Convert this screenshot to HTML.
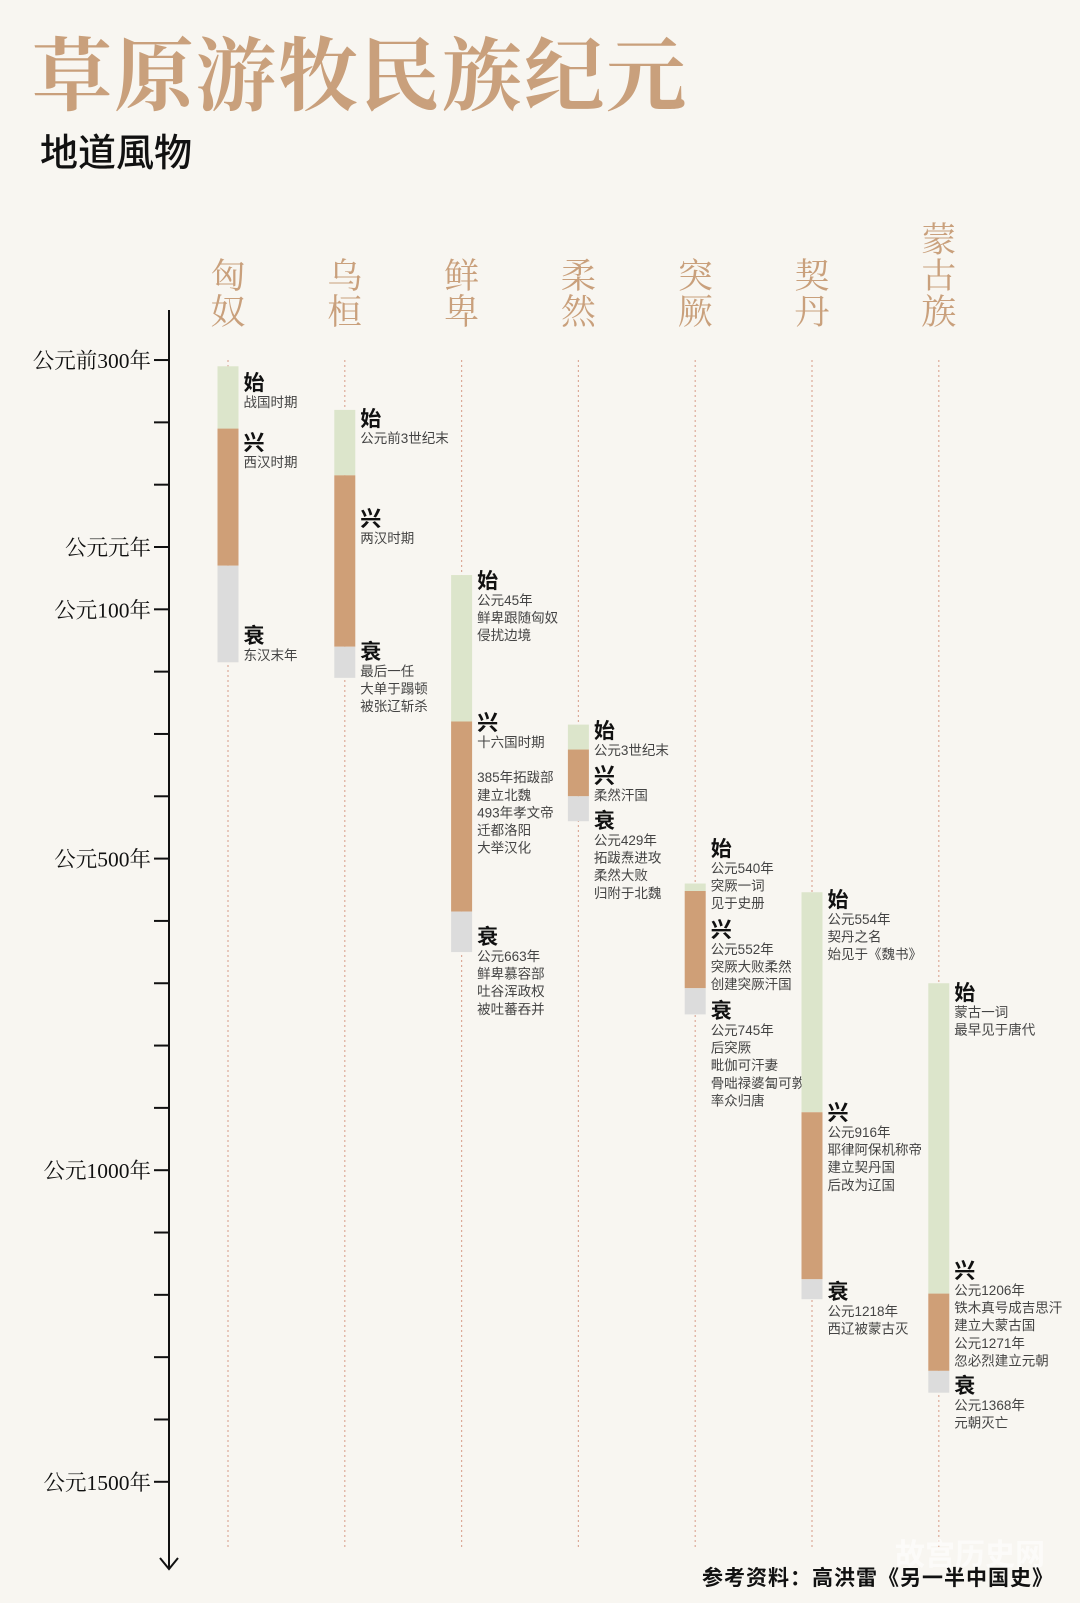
<!DOCTYPE html>
<html><head><meta charset="utf-8">
<style>
html,body{margin:0;padding:0;background:#f8f6f1;}
svg{display:block;}
</style></head>
<body>
<svg id="chart" width="1080" height="1603" viewBox="0 0 1080 1603" xmlns="http://www.w3.org/2000/svg">
<rect x="0" y="0" width="1080" height="1603" fill="#f8f6f1"/>
<text x="32" y="104" font-family="'Liberation Serif','Noto Serif CJK SC',serif" font-weight="bold" font-size="80" fill="#c9a07c" letter-spacing="2">草原游牧民族纪元</text>
<text x="40" y="166" font-family="'Liberation Sans','Noto Sans CJK SC',sans-serif" font-weight="500" font-size="38" fill="#111">地道風物</text>
<g id="axis"></g>
<g id="cols"></g>
<text x="895" y="1565" font-family="'Liberation Sans','Noto Sans CJK SC',sans-serif" font-size="30" font-weight="bold" fill="#ffffff" opacity="0.6">故宫历史网</text>
<text x="702" y="1585" font-family="'Liberation Sans','Noto Sans CJK SC',sans-serif" font-weight="bold" font-size="21" fill="#111" letter-spacing="1">参考资料：高洪雷《另一半中国史》</text>
</svg>
<script>
// ---- data ----
const tribes = ["匈奴","乌桓","鲜卑","柔然","突厥","契丹","蒙古族"];
const startYears   = [-290, -220,  45, 285, 540,  554,  700];
const riseYears    = [-190, -115, 280, 325, 552,  907, 1198];
const declineYears = [  30,  160, 585, 400, 708, 1175, 1322];
const endYears     = [ 185,  210, 650, 440, 750, 1207, 1357];
const tickYears = [-300,-200,-100,0,100,200,300,400,500,600,700,800,900,1000,1100,1200,1300,1400,1500];
const tickLabelYears = [-300,0,100,500,1000,1500];
const tickLabels = ["公元前300年","公元元年","公元100年","公元500年","公元1000年","公元1500年"];
const startNotes = [["战国时期"],["公元前3世纪末"],["公元45年","鲜卑跟随匈奴","侵扰边境"],["公元3世纪末"],["公元540年","突厥一词","见于史册"],["公元554年","契丹之名","始见于《魏书》"],["蒙古一词","最早见于唐代"]];
const riseNotes = [["西汉时期"],["两汉时期"],["十六国时期","","385年拓跋部","建立北魏","493年孝文帝","迁都洛阳","大举汉化"],["柔然汗国"],["公元552年","突厥大败柔然","创建突厥汗国"],["公元916年","耶律阿保机称帝","建立契丹国","后改为辽国"],["公元1206年","铁木真号成吉思汗","建立大蒙古国","公元1271年","忽必烈建立元朝"]];
const declineNotes = [["东汉末年"],["最后一任","大单于蹋顿","被张辽斩杀"],["公元663年","鲜卑慕容部","吐谷浑政权","被吐蕃吞并"],["公元429年","拓跋焘进攻","柔然大败","归附于北魏"],["公元745年","后突厥","毗伽可汗妻","骨咄禄婆匐可敦","率众归唐"],["公元1218年","西辽被蒙古灭"],["公元1368年","元朝灭亡"]];

// ---- layout ----
const NS="http://www.w3.org/2000/svg";
const y0=547, pxPerYear=0.6232;
function yScale(yr){return y0+yr*pxPerYear;}
const colX0=228, colStep=116.8;
function xScale(i){return colX0+i*colStep+(i===tribes.length-1?10:0);}
const barW=21, axisX=169;
const labelLayout={
  s:[382,418,580,730,848,899,992],
  r:[442,518,722,775,929,1112,1270],
  d:[635,651,936,820,1010,1291,1385]
};
function mk(tag,attrs,parent){const e=document.createElementNS(NS,tag);for(const k in attrs)e.setAttribute(k,attrs[k]);parent.appendChild(e);return e;}
const axisG=document.getElementById('axis');
const colsG=document.getElementById('cols');

let l=mk('line',{x1:axisX,y1:310,x2:axisX,y2:1568,stroke:'#111','stroke-width':2},axisG);


let ar=mk('path',{d:`M${axisX-9} 1558 L${axisX} 1569 L${axisX+9} 1558`,fill:'none',stroke:'#111','stroke-width':2},axisG);


tickYears.forEach(t=>{
  const e=mk('line',{x1:axisX-15,y1:yScale(t),x2:axisX,y2:yScale(t),stroke:'#111','stroke-width':2},axisG);
  
  
});
tickLabelYears.forEach((t,i)=>{
  const e=mk('text',{x:axisX-18,y:yScale(t)+8,'text-anchor':'end','font-family':"'Liberation Serif','Noto Serif CJK SC',serif",'font-size':21.5,fill:'#111'},axisG);
  e.textContent=tickLabels[i];
  
  
});

const sans="'Liberation Sans','Noto Sans CJK SC',sans-serif";
function addNote(g,x,cy,head,lines){
  const h=mk('text',{x:x,y:cy+8,'font-family':sans,'font-weight':'bold','font-size':21,fill:'#111'},g);
  h.textContent=head;
  
  
  lines.forEach((s,k)=>{
    if(!s)return;
    const t=mk('text',{x:x,y:cy+25+k*17.6,'font-family':sans,'font-size':13.5,fill:'#444'},g);
    t.textContent=s;
    
    
  });
}

tribes.forEach((name,i)=>{
  const cx=xScale(i);
  const g=mk('g',{},colsG);
  
  
  const dl=mk('line',{x1:cx,y1:360,x2:cx,y2:1548,stroke:'#dcaa98','stroke-width':1.2,'stroke-dasharray':'2 3'},g);
  
  
  const chars=[...name];
  const lastCy=312;
  chars.forEach((c,k)=>{
    const t=mk('text',{x:cx,y:lastCy-(chars.length-1-k)*36+12,'text-anchor':'middle','font-family':"'Liberation Serif','Noto Serif CJK SC',serif",'font-size':35,fill:'#c9a07c'},g);
    t.textContent=c;
    
    
  });
  const segs=[[startYears[i],riseYears[i],'#dce5cb','stage-origin'],[riseYears[i],declineYears[i],'#cf9f77','stage-rise'],[declineYears[i],endYears[i],'#dcdcdc','stage-decline']];
  segs.forEach(s=>{
    const r=mk('rect',{x:cx-barW/2,y:yScale(s[0]),width:barW,height:yScale(s[1])-yScale(s[0]),fill:s[2]},g);
    
    
  });
  const lx=cx+barW/2+5;
  addNote(g,lx,labelLayout.s[i],'始',startNotes[i]);
  addNote(g,lx,labelLayout.r[i],'兴',riseNotes[i]);
  addNote(g,lx,labelLayout.d[i],'衰',declineNotes[i]);
});
</script>
</body></html>
